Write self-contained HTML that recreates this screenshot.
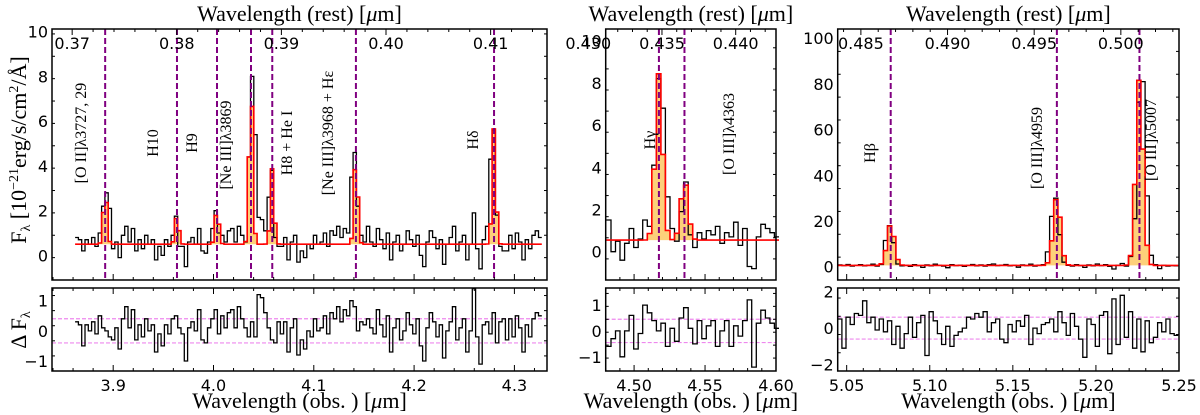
<!DOCTYPE html>
<html><head><meta charset="utf-8">
<style>
html,body{margin:0;padding:0;background:#fff;}
svg{display:block;}
.tk{font-family:"DejaVu Sans","Liberation Sans",sans-serif;font-size:16px;fill:#000;}
.sf{font-family:"Liberation Serif","DejaVu Serif",serif;fill:#000;}
</style></head>
<body>
<svg id="chart" width="1200" height="415" viewBox="0 0 1200 415" xmlns="http://www.w3.org/2000/svg"></svg>
<script>
// ---------- data ----------
const p1Start = 3.862, p1Bin = 0.0033;
const p1Flux = [0.8,0.7,0.2,0.7,0.5,0.8,0.4,1.0,2.2,2.8,
2.1,0.3,0.6,-0.1,0.9,1.3,0.6,1.2,0.2,0.7,
0.3,0.9,0.5,0.7,-0.2,0.4,0.0,0.7,0.4,0.9,
1.75,0.4,0.4,-0.5,0.6,0.8,0.5,1.2,0.2,0.1,
0.6,1.2,2.0,1.0,0.9,0.6,1.1,1.2,0.6,1.3,
0.9,0.6,4.4,8.0,5.4,1.7,1.6,1.1,2.6,3.8,
0.8,0.4,0.4,0.8,-0.2,0.6,0.9,-0.3,0.2,-0.1,
0.5,0.3,0.9,0.5,0.6,1.0,0.4,1.1,0.9,1.3,
0.8,1.2,1.0,3.5,4.6,2.2,0.9,0.6,1.3,0.6,
0.4,1.2,0.7,0.3,1.0,-0.2,0.6,0.9,0.2,0.5,
1.1,0.7,0.4,0.9,0.0,-0.5,0.6,1.1,0.8,0.3,
0.7,-0.4,0.5,0.8,1.3,0.2,0.6,0.9,-0.2,0.5,
1.9,0.3,-0.6,0.7,1.3,4.3,5.6,1.8,0.4,0.2,
0.2,0.9,0.3,1.0,0.6,-0.2,0.7,0.3,0.9,1.1,0.8];
const p1Resid = [0.3,0.2,-0.5,0.2,0.0,0.3,-0.1,0.5,0.1,0.0,
-0.2,-0.3,0.1,-0.6,0.4,0.8,0.1,0.7,-0.3,0.2,
-0.2,0.4,0.0,0.2,-0.7,-0.1,-0.5,0.2,-0.1,0.4,
0.5,0.1,-0.1,-1.0,0.1,0.3,0.0,0.7,-0.3,-0.4,
0.1,0.4,0.7,-0.1,0.5,0.1,0.6,0.7,0.1,0.8,
0.4,0.1,-0.2,0.3,-0.2,1.2,1.1,0.6,0.1,-0.3,
-0.4,0.3,-0.1,0.3,-0.7,0.1,0.4,-0.8,-0.3,-0.6,
0.0,-0.2,0.4,0.0,0.1,0.5,-0.1,0.6,0.4,0.8,
0.3,0.7,0.5,1.0,0.8,0.0,0.3,0.2,0.4,0.1,
-0.1,0.7,0.2,-0.2,0.5,-0.7,0.1,0.4,-0.3,0.0,
0.6,0.2,-0.1,0.4,-0.5,-1.0,0.1,0.6,0.3,-0.2,
0.2,-0.9,0.0,0.3,0.8,-0.3,0.1,0.4,-0.7,0.0,
1.4,-0.2,-1.1,0.2,0.3,-0.1,0.6,-0.4,0.3,0.4,
-0.3,0.4,-0.2,0.5,0.1,-0.7,0.2,-0.2,0.4,0.6,0.5];
const p1Lines = [3.892,3.9636,4.0035,4.0374,4.0586,4.142,4.2797];
const p1Amps = [2.4,1.3,1.6,7.4,3.4,4.0,5.2];
const p1Cont = 0.5;

const p2Start = 4.4805, p2Bin = 0.0032;
const p2Flux = [1.5,0.0,0.5,-0.4,0.4,1.1,0.2,0.6,1.5,1.2,4.1,8.2,6.8,2.6,1.1,0.5,1.9,3.3,0.8,0.2,
0.9,0.6,1.0,0.8,1.2,0.4,0.9,0.7,1.4,0.3,1.1,-0.7,-0.8,0.7,1.3,1.1,0.9,0.7];
const p2Resid = [-0.6,-0.3,0.0,-1.0,0.0,0.6,-0.7,-0.1,1.0,0.7,0.4,0.0,0.3,-0.6,0.1,-0.4,0.5,0.9,0.1,-0.5,
0.4,-0.3,0.2,0.4,-0.6,0.0,0.4,-0.6,0.2,-0.2,0.4,1.2,-1.4,0.3,0.8,0.5,0.3,0.1];
const p2Lines = [4.5175,4.5355];
const p2Amps = [7.9,2.8];
const p2Cont = 0.55;

const p3Start = 5.0446, p3Bin = 0.0025;
const p3Flux = [0.8,0.5,1.0,0.3,0.6,0.9,0.4,0.7,1.1,0.3,
1.0,11.5,18,10.5,1.2,0.4,0.6,0.2,0.9,0.5,
-0.3,0.8,0.4,1.1,0.6,0.3,-0.4,0.9,0.5,0.7,
0.2,0.6,1.0,0.4,0.8,0.3,0.9,1.2,0.5,0.7,
1.0,0.4,0.6,-0.2,0.8,0.5,1.1,0.3,0.7,0.9,
6.5,22,30,14,2.0,0.6,0.3,0.9,0.5,-0.3,
0.8,0.4,1.2,0.5,0.9,0.2,-1.0,0.6,1.4,0.3,
4.5,21,72,81,31,5,0.9,-0.8,0.6,0.3,0.5,0.4];
const p3Resid = [0.5,-1.1,0.6,0.2,0.8,0.7,1.5,0.3,0.6,-0.1,
0.5,-0.2,0.4,-0.9,0.1,-1.1,-0.3,0.6,-0.5,0.3,
0.7,-1.5,0.9,0.4,-0.3,-0.9,0.1,-1.0,-0.4,-0.2,
0.0,0.6,0.5,0.8,0.6,0.9,-0.2,0.3,0.5,-0.6,
-0.8,0.2,-0.2,0.4,0.1,0.7,-0.9,0.0,-0.3,0.2,
0.3,0.5,-0.2,0.9,0.3,-0.4,0.8,0.1,-0.6,-1.6,
0.5,0.2,-1.0,0.7,0.9,-1.4,1.6,-0.9,1.8,-0.5,
0.9,-1.1,0.5,-1.3,0.4,-0.8,-0.5,0.3,-0.2,0.5,-0.3,-0.4];
const p3Lines = [5.0765,5.1765,5.2262];
const p3Amps = [18,30,82];
const p3Cont = 0.6;

// ---------- helpers ----------
const NS = "http://www.w3.org/2000/svg";
const svg = document.getElementById('chart');
function mk(tag, attrs, parent){const e=document.createElementNS(NS,tag);for(const k in attrs)e.setAttribute(k,attrs[k]);(parent||svg).appendChild(e);return e;}
function lin(d0,d1,r0,r1){return v=>r0+(v-d0)*(r1-r0)/(d1-d0);}

function stepPath(start,bin,vals,X,Y){
  let d='';
  vals.forEach((v,i)=>{const x0=X(start+i*bin),x1=X(start+(i+1)*bin),y=Y(v);
    d+=(i===0?'M':'L')+x0.toFixed(1)+','+y.toFixed(1)+'L'+x1.toFixed(1)+','+y.toFixed(1);});
  return d;
}
function modelVals(start,bin,n,cont,lines,amps,sig){
  const out=[];
  for(let i=0;i<n;i++){const c=start+(i+0.5)*bin;let v=cont;
    lines.forEach((l,k)=>{v+=amps[k]*Math.exp(-0.5*Math.pow((c-l)/sig,2));});out.push(v);}
  return out;
}

function panel(cfg){
  const g=mk('g',{});
  
  
  const X=lin(cfg.x0,cfg.x1,cfg.L,cfg.R);
  const Y=lin(cfg.y0,cfg.y1,cfg.B,cfg.T);
  const YR=lin(cfg.r0,cfg.r1,cfg.RB,cfg.RT);
  const n=cfg.flux.length;
  const model=modelVals(cfg.start,cfg.bin,n,cfg.cont,cfg.lines,cfg.amps,cfg.sig);
  let fd='M'+X(cfg.start).toFixed(1)+','+Y(cfg.cont).toFixed(1);
  model.forEach((v,i)=>{fd+='L'+X(cfg.start+i*cfg.bin).toFixed(1)+','+Y(v).toFixed(1)+'L'+X(cfg.start+(i+1)*cfg.bin).toFixed(1)+','+Y(v).toFixed(1);});
  fd+='L'+X(cfg.start+n*cfg.bin).toFixed(1)+','+Y(cfg.cont).toFixed(1)+'Z';
  const fill=mk('path',{d:fd,fill:'#fdd07a',stroke:'none'},g);
  
  
  const dp=mk('path',{d:stepPath(cfg.start,cfg.bin,cfg.flux,X,Y),fill:'none',stroke:'#000','stroke-width':1.3},g);
  
  
  const mp=mk('path',{d:stepPath(cfg.start,cfg.bin,model,X,Y),fill:'none',stroke:'#ff0000','stroke-width':1.6},g);
  
  
  cfg.lines.forEach(l=>{const v=mk('line',{x1:X(l),x2:X(l),y1:cfg.T,y2:cfg.B,stroke:'#800080','stroke-width':2,'stroke-dasharray':'6,3'},g);
    
    });
  cfg.errs.forEach(e=>{const p=mk('line',{x1:cfg.L,x2:cfg.R,y1:YR(e),y2:YR(e),stroke:'#ee88ee','stroke-width':1.2,'stroke-dasharray':'4,2'},g);
    
    });
  const rp=mk('path',{d:stepPath(cfg.start,cfg.bin,cfg.resid,X,YR),fill:'none',stroke:'#000','stroke-width':1.3},g);
  
  
  [[cfg.T,cfg.B],[cfg.RT,cfg.RB]].forEach(([t,b],k)=>{const r=mk('rect',{x:cfg.L,y:t,width:cfg.R-cfg.L,height:b-t,fill:'none',stroke:'#000','stroke-width':1.5},g);
    
    });
  const tk=(x1,y1,x2,y2)=>mk('line',{x1,y1,x2,y2,stroke:'#000','stroke-width':1},g);
  for(let v=cfg.xminor0;v<=cfg.x1+1e-9;v+=cfg.xminor){
    const x=X(v);if(x<cfg.L||x>cfg.R)continue;
    const maj=cfg.xmajor.some(m=>Math.abs(m-v)<1e-6);const len=maj?6:3;
    tk(x,cfg.B,x,cfg.B-len);tk(x,cfg.RT,x,cfg.RT+len);tk(x,cfg.RB,x,cfg.RB-len);
  }
  cfg.xmajor.forEach((m,i)=>{const t=mk('text',{x:X(m),y:cfg.RB+20,'text-anchor':'middle',class:'tk'},g);t.textContent=cfg.xlabels[i];
    
    });
  for(let v=cfg.restMinor0;v<=cfg.restEnd+1e-9;v+=cfg.restMinor){
    const x=X(v*cfg.zp1);if(x<cfg.L||x>cfg.R)continue;
    const maj=cfg.restMajor.some(m=>Math.abs(m-v)<1e-6);tk(x,cfg.T,x,cfg.T+(maj?6:3));
  }
  cfg.restMajor.forEach((m,i)=>{const t=mk('text',{x:X(m*cfg.zp1)+(cfg.restDx||0),y:cfg.T+20,'text-anchor':'middle',class:'tk'},g);t.textContent=cfg.restLabels[i];
    
    });
  for(let v=cfg.y0;v<=cfg.y1;v+=cfg.yminor){const y=Y(v);const maj=Math.abs(v/cfg.ymajor-Math.round(v/cfg.ymajor))<1e-6;const len=maj?6:3;
    tk(cfg.L,y,cfg.L+len,y);tk(cfg.R,y,cfg.R-len,y);}
  cfg.yticks.forEach(v=>{const t=mk('text',{x:cfg.L-4,y:Y(v)+6,'text-anchor':'end',class:'tk'},g);t.textContent=String(v).replace('-','\u2212');
    
    });
  for(let v=cfg.r0;v<=cfg.r1+1e-9;v+=cfg.rminor){const y=YR(v);if(y<cfg.RT||y>cfg.RB)continue;const maj=Math.abs(v-Math.round(v/cfg.rmajor)*cfg.rmajor)<1e-6;const len=maj?6:3;
    tk(cfg.L,y,cfg.L+len,y);tk(cfg.R,y,cfg.R-len,y);}
  cfg.rticks.forEach(v=>{const t=mk('text',{x:cfg.L-4,y:YR(v)+6,'text-anchor':'end',class:'tk'},g);t.textContent=String(v).replace('-','\u2212');
    
    });
  cfg.labels.forEach(([txt,x,y])=>{const t=mk('text',{x,y,'text-anchor':'middle',class:'sf','font-size':16,transform:`rotate(-90 ${x} ${y})`},g);t.innerHTML=txt;
    
    });
  const cx=(cfg.L+cfg.R)/2;
  const t1=mk('text',{x:cx,y:21,'text-anchor':'middle',class:'sf','font-size':22},g);t1.innerHTML='Wavelength (rest) [<tspan font-style="italic">μ</tspan>m]';
  
  
  const t2=mk('text',{x:cx,y:408,'text-anchor':'middle',class:'sf','font-size':22},g);t2.innerHTML='Wavelength (obs. ) [<tspan font-style="italic">μ</tspan>m]';
  
  
}

const common={T:29,B:280,RT:288,RB:371};
panel(Object.assign({},common,{name:'panel-oii-hdelta',L:52,R:547,x0:3.839,x1:4.3325,y0:-1.1,y1:10.12,r0:-1.33,r1:1.42,
  start:p1Start,bin:p1Bin,flux:p1Flux,resid:p1Resid,lines:p1Lines,amps:p1Amps,cont:p1Cont,sig:0.0019,errs:[0.4,-0.4],
  xmajor:[3.9,4.0,4.1,4.2,4.3],xlabels:['3.9','4.0','4.1','4.2','4.3'],xminor0:3.84,xminor:0.02,
  zp1:10.43,restMajor:[0.37,0.38,0.39,0.40,0.41],restLabels:['0.37','0.38','0.39','0.40','0.41'],restMinor0:0.368,restMinor:0.002,restEnd:0.416,
  yticks:[0,2,4,6,8,10],ymajor:2,yminor:1,rticks:[-1,0,1],rmajor:1,rminor:0.5,
  labels:[['[O II]λ3727, 29',86,133],['H10',158,143],['H9',197,143],['[Ne III]λ3869',231,145],['H8 + He I',292,143],['[Ne III]λ3968 + Hε',333,133],['Hδ',478,140]]}));
panel(Object.assign({},common,{name:'panel-hgamma',L:605.7,R:776,x0:4.48,x1:4.60,y0:-1.34,y1:10.55,r0:-1.55,r1:1.66,
  start:p2Start,bin:p2Bin,flux:p2Flux,resid:p2Resid,lines:p2Lines,amps:p2Amps,cont:p2Cont,sig:0.0026,errs:[0.45,-0.45],
  xmajor:[4.5,4.55,4.6],xlabels:['4.50','4.55','4.60'],xminor0:4.48,xminor:0.01,
  zp1:10.39,restMajor:[0.430,0.435,0.440],restLabels:['0.430','0.435','0.440'],restMinor0:0.431,restMinor:0.001,restEnd:0.443,restDx:0,
  yticks:[0,2,4,6,8,10],ymajor:2,yminor:1,rticks:[-1,0,1],rmajor:1,rminor:0.5,
  labels:[['Hγ',655,140],['[O III]λ4363',734,134]]}));
panel(Object.assign({},common,{name:'panel-hbeta-oiii',L:837.7,R:1179,x0:5.0446,x1:5.25,y0:-5.8,y1:104,r0:-2.35,r1:2.2,
  start:p3Start,bin:p3Bin,flux:p3Flux,resid:p3Resid,lines:p3Lines,amps:p3Amps,cont:p3Cont,sig:0.0022,errs:[0.6,-0.6],
  xmajor:[5.05,5.1,5.15,5.2,5.25],xlabels:['5.05','5.10','5.15','5.20','5.25'],xminor0:5.05,xminor:0.01,
  zp1:10.43,restMajor:[0.485,0.490,0.495,0.500],restLabels:['0.485','0.490','0.495','0.500'],restMinor0:0.484,restMinor:0.001,restEnd:0.504,
  yticks:[0,20,40,60,80,100],ymajor:20,yminor:10,rticks:[-2,0,2],rmajor:2,rminor:1,
  labels:[['Hβ',875,153],['[O III]λ4959',1042,148],['[O III]λ5007',1156,140]]}));

const ya=mk('text',{x:26,y:150,'text-anchor':'middle',class:'sf','font-size':22,transform:'rotate(-90 26 150)'});
ya.innerHTML='F<tspan font-size="14" dy="4">λ</tspan><tspan dy="-4"> [10</tspan><tspan font-size="14" dy="-8">−21</tspan><tspan dy="8">erg/s/cm</tspan><tspan font-size="14" dy="-8">2</tspan><tspan dy="8">/Å]</tspan>';


const yb=mk('text',{x:26,y:330,'text-anchor':'middle',class:'sf','font-size':22,transform:'rotate(-90 26 330)'});
yb.innerHTML='Δ F<tspan font-size="14" dy="4">λ</tspan>';


</script>
</body></html>
